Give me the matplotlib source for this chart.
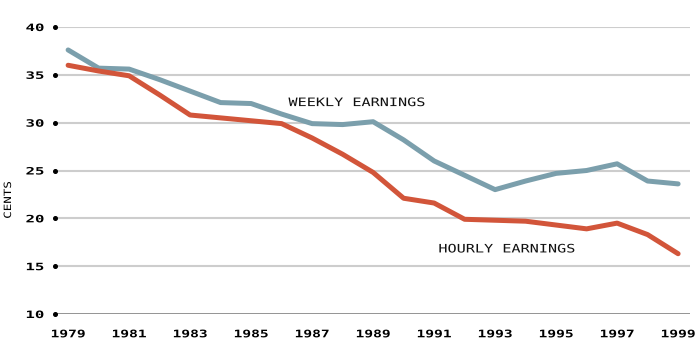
import matplotlib
matplotlib.use("Agg")
import matplotlib.pyplot as plt
import matplotlib.transforms as mtransforms
from matplotlib.patheffects import AbstractPathEffect

years = list(range(1979, 2000))
weekly = [37.6, 35.7, 35.6, 34.5, 33.3, 32.1, 32.0, 30.9, 29.9, 29.8, 30.1,
          28.2, 26.0, 24.5, 23.0, 23.9, 24.7, 25.0, 25.7, 23.9, 23.6]
hourly = [36.0, 35.4, 34.9, 32.9, 30.8, 30.5, 30.2, 29.9, 28.4, 26.7, 24.8,
          22.1, 21.6, 19.9, 19.8, 19.7, 19.3, 18.9, 19.5, 18.3, 16.3]
yticks = [10, 15, 20, 25, 30, 35, 40]
xtick_years = list(range(1979, 2000, 2))

BLUE = "#7b9fac"
RED = "#d2553a"
FONT = "DejaVu Sans Mono"


class Stretch(AbstractPathEffect):
    """Widen text glyphs around their own centre (mimics a wide pixel font)."""
    def __init__(self, sx=1.0, sy=1.0):
        super().__init__()
        self.sx, self.sy = sx, sy

    def draw_path(self, renderer, gc, tpath, affine, rgbFace=None):
        ext = tpath.get_extents(affine)
        cx = (ext.x0 + ext.x1) / 2
        cy = (ext.y0 + ext.y1) / 2
        st = (mtransforms.Affine2D().translate(-cx, -cy)
              .scale(self.sx, self.sy).translate(cx, cy))
        renderer.draw_path(gc, tpath, affine + st, rgbFace)


fig = plt.figure(figsize=(7.0, 3.61), dpi=100)
ax = fig.add_axes([55/700, 1 - 314/361, (690-55)/700, (314-27)/361])
ax.set_xlim(1978.57, 1999.39)
ax.set_ylim(10, 40)

for s in ax.spines.values():
    s.set_visible(False)

for v in yticks:
    if v == 10:
        ax.axhline(v, color="#8a8a8a", lw=2.0, zorder=1)
    else:
        ax.axhline(v, color="#cdcdcd", lw=1.5, zorder=1)

trans = mtransforms.blended_transform_factory(ax.transAxes, ax.transData)
ax.plot([0]*len(yticks), yticks, 'o', color="black", ms=2.6, transform=trans,
        clip_on=False, zorder=3)

ax.plot(years, weekly, color=BLUE, lw=3.6, solid_capstyle="round",
        solid_joinstyle="round", zorder=4, clip_on=False)
ax.plot(years, hourly, color=RED, lw=3.6, solid_capstyle="round",
        solid_joinstyle="round", zorder=5, clip_on=False)

ax.set_yticks(yticks)
ax.set_yticklabels([str(v) for v in yticks], family=FONT, fontsize=7.3,
                   fontweight="bold")
ax.set_xticks(xtick_years)
ax.set_xticklabels([str(y) for y in xtick_years], family=FONT, fontsize=7.5,
                   fontweight="bold")
ax.tick_params(axis="y", length=0, pad=10)
ax.tick_params(axis="x", length=0, pad=11)
for t in ax.get_yticklabels():
    t.set_path_effects([Stretch(1.55, 1.0)])
for t in ax.get_xticklabels():
    t.set_path_effects([Stretch(1.4, 1.0)])

ylab = ax.set_ylabel("CENTS", family=FONT, fontsize=7.2, va="center")
ax.yaxis.set_label_coords(-(55 - 8) / 635, (314 - 200) / 287)
ylab.set_path_effects([Stretch(1.0, 1.25)])

t1 = ax.text(1988.46, 32.1, "WEEKLY EARNINGS", family=FONT, fontsize=8.4,
             va="center", ha="center", color="#111111")
t2 = ax.text(1993.38, 16.8, "HOURLY EARNINGS", family=FONT, fontsize=8.4,
             va="center", ha="center", color="#111111")
for t in (t1, t2):
    t.set_path_effects([Stretch(1.3, 1.0)])

fig.savefig("out.png", dpi=100)
